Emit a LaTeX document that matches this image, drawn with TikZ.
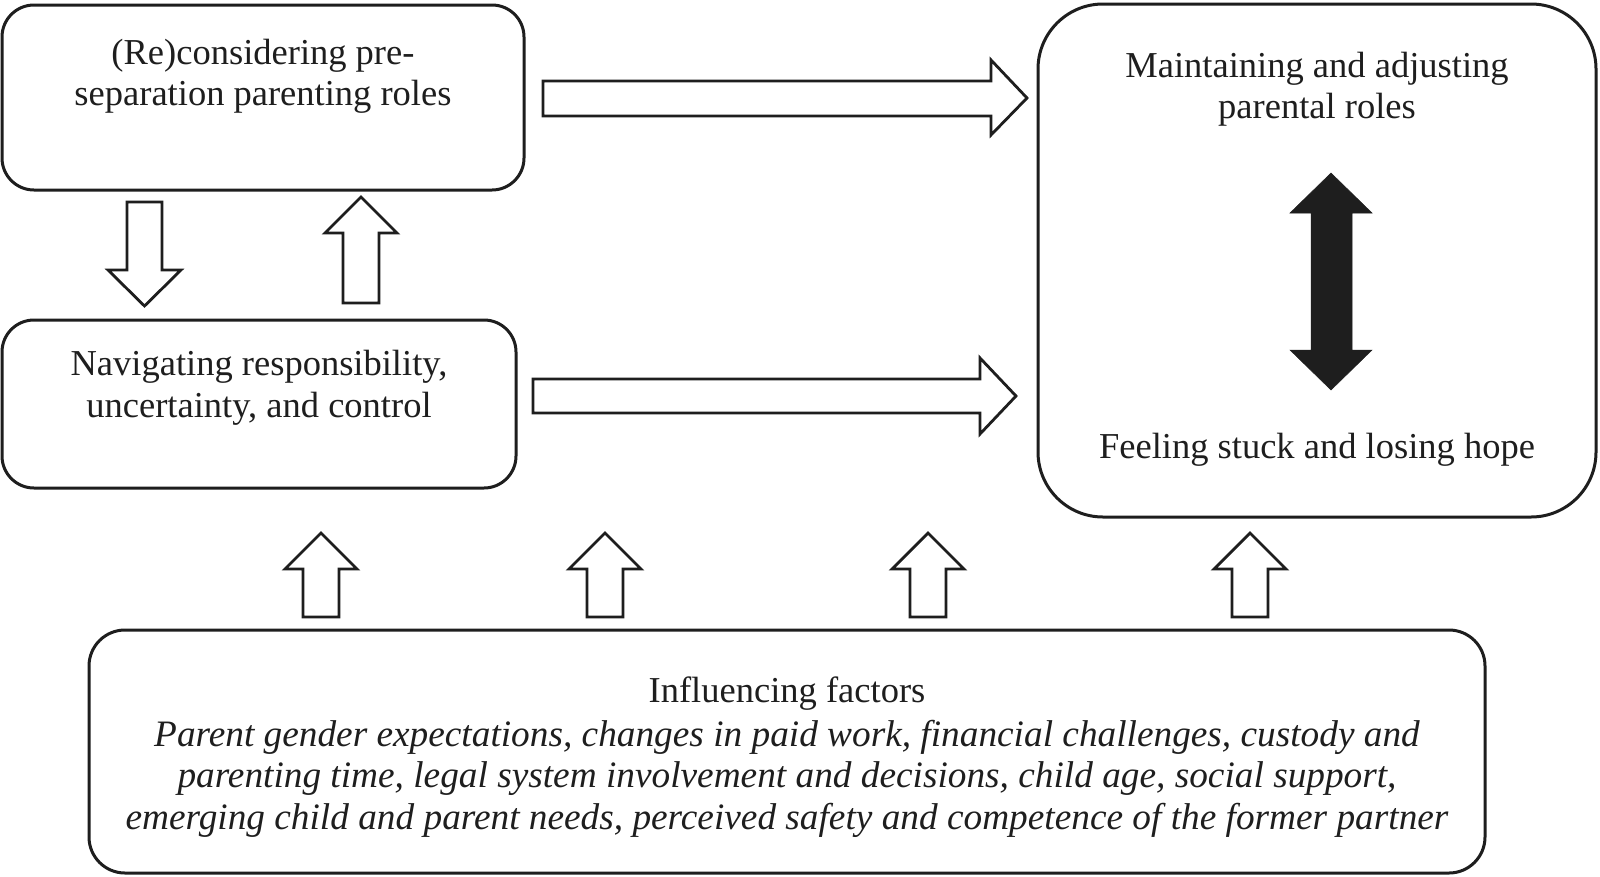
\documentclass[tikz,border=0pt]{standalone}
\usepackage{fontspec}
\setmainfont{Liberation Serif}
\definecolor{ink}{HTML}{1E1E1E}
\begin{document}
\begin{tikzpicture}[x=1pt,y=-1pt,
  box/.style={draw=ink, line width=3pt, rounded corners=#1, inner sep=0pt, fill=none},
  box/.default=32pt,
  lbl/.style={inner sep=0pt, align=center, text=ink, font=\fontsize{36.5}{41.5}\selectfont},
  itl/.style={font=\fontsize{37.3}{41.5}\selectfont\itshape},
  blockarrow/.style={draw=ink, line width=2.8pt, fill=white, line join=miter},
  solidarrow/.style={draw=ink, line width=0.5pt, fill=ink, line join=miter}]
\useasboundingbox[fill=white] (0,0) rectangle (1600,876);

% boxes
\node[box, minimum width=522pt, minimum height=185pt] (A) at (263,97.5) {};
\node[box, minimum width=514pt, minimum height=168pt] (B) at (259,404) {};
\node[box=65pt, minimum width=558pt, minimum height=513pt] (C) at (1317,260.5) {};
\node[box=36pt, minimum width=1396pt, minimum height=243pt] (D) at (787,751.5) {};

% texts (base anchor = baseline of the last line)
\node[lbl, anchor=base] (tA) at (263,105.5) {(Re)considering pre-\\separation parenting roles};
\node[lbl, anchor=base] (tB) at (259,417) {Navigating responsibility,\\uncertainty, and control};
\node[lbl, anchor=base] (tC1) at (1317,118.5) {Maintaining and adjusting\\parental roles};
\node[lbl, anchor=base] (tC2) at (1317,458) {Feeling stuck and losing hope};
\node[lbl, anchor=base] (tD) at (787,702) {Influencing factors};
\node[lbl, itl, anchor=base] (tD2) at (787,829) {Parent gender expectations, changes in paid work, financial challenges, custody and\\
  parenting time, legal system involvement and decisions, child age, social support,\\
  emerging child and parent needs, perceived safety and competence of the former partner};

% horizontal block arrows (A -> C, B -> C)
\draw[blockarrow] (543,81) -- (991,81) -- (991,60) -- (1027,98) -- (991,135) -- (991,116) -- (543,116) -- cycle;
\draw[blockarrow] (533,379) -- (980,379) -- (980,358) -- (1016,396) -- (980,434) -- (980,413) -- (533,413) -- cycle;

% vertical block arrows between A and B
\draw[blockarrow] (127,202) -- (162,202) -- (162,270) -- (181,270) -- (144.5,306) -- (108,270) -- (127,270) -- cycle;
\draw[blockarrow] (343,303) -- (379,303) -- (379,233) -- (397,233) -- (361,197) -- (325,233) -- (343,233) -- cycle;

% influencing arrows from D
\foreach \cx in {321,605,928,1250}{
  \draw[blockarrow] (\cx-18,617) -- (\cx+18,617) -- (\cx+18,569) -- (\cx+36,569) -- (\cx,533) -- (\cx-36,569) -- (\cx-18,569) -- cycle;
}

% double-headed black arrow inside C
\draw[solidarrow] (1311,213) -- (1290,213) -- (1331,173) -- (1372,213) -- (1352,213) -- (1352,350) -- (1372,350) -- (1331,390) -- (1290,350) -- (1311,350) -- cycle;
\end{tikzpicture}
\end{document}
